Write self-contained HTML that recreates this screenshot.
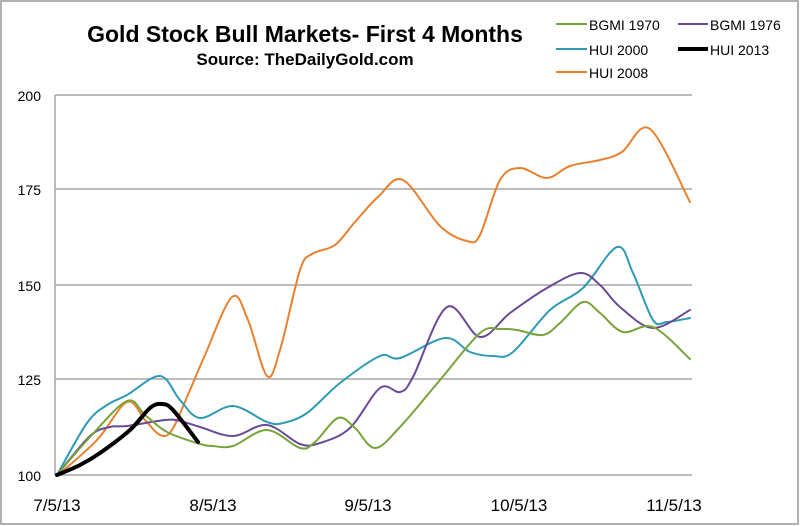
<!DOCTYPE html>
<html><head><meta charset="utf-8"><style>
html,body{margin:0;padding:0;background:#fff}
svg{display:block}
text{font-family:"Liberation Sans",sans-serif}
</style></head><body>
<svg id="s" width="800" height="526" viewBox="0 0 800 526" xmlns="http://www.w3.org/2000/svg">
<rect x="1" y="1" width="797" height="523" fill="#fff" stroke="#b0b0b0" stroke-width="2"/>
<g stroke="#a6a6a6" stroke-width="1.5">
<line x1="55" y1="95" x2="692" y2="95"/>
<line x1="55" y1="189" x2="692" y2="189"/>
<line x1="55" y1="285" x2="692" y2="285"/>
<line x1="55" y1="379" x2="692" y2="379"/>
<line x1="55" y1="475" x2="692" y2="475"/>
<line x1="55" y1="95" x2="55" y2="475"/>
</g>
<g font-size="14" fill="#000" text-anchor="end">
<text x="41" y="101">200</text><text x="41" y="195">175</text><text x="41" y="291">150</text><text x="41" y="385">125</text><text x="41" y="481">100</text>
</g>
<g font-size="17" fill="#000" text-anchor="middle">
<text x="57" y="511">7/5/13</text><text x="213" y="511">8/5/13</text><text x="368" y="511">9/5/13</text><text x="519" y="511">10/5/13</text><text x="674" y="511">11/5/13</text>
</g>
<text x="305" y="42" font-size="23" font-weight="bold" text-anchor="middle">Gold Stock Bull Markets- First 4 Months</text>
<text x="305" y="65" font-size="17" font-weight="bold" text-anchor="middle">Source: TheDailyGold.com</text>
<g font-size="14" fill="#000">
<line x1="556" y1="24" x2="587" y2="24" stroke="#77a33a" stroke-width="2"/><text x="589" y="30">BGMI 1970</text>
<line x1="678" y1="24" x2="708" y2="24" stroke="#6a4a96" stroke-width="2"/><text x="710" y="30">BGMI 1976</text>
<line x1="556" y1="49" x2="587" y2="49" stroke="#2e9ab4" stroke-width="2"/><text x="589" y="55">HUI 2000</text>
<line x1="678" y1="49" x2="708" y2="49" stroke="#000" stroke-width="4"/><text x="710" y="55">HUI 2013</text>
<line x1="556" y1="72" x2="587" y2="72" stroke="#e8802e" stroke-width="2"/><text x="589" y="78">HUI 2008</text>
</g>
<g fill="none" stroke-linejoin="round" stroke-linecap="round">
<path id="o" stroke="#e8802e" stroke-width="2"/>
<path id="t" stroke="#2e9ab4" stroke-width="2"/>
<path id="p" stroke="#6a4a96" stroke-width="2"/>
<path id="g" stroke="#77a33a" stroke-width="2"/>
<path id="k" stroke="#000" stroke-width="4"/>
</g>
</svg>
<script>
function cr(p){var d="M"+p[0][0]+","+p[0][1];for(var i=0;i<p.length-1;i++){var a=p[i-1]||p[i],b=p[i],c=p[i+1],e=p[i+2]||c;d+=" C"+(b[0]+(c[0]-a[0])/6)+","+(b[1]+(c[1]-a[1])/6)+" "+(c[0]-(e[0]-b[0])/6)+","+(c[1]-(e[1]-b[1])/6)+" "+c[0]+","+c[1];}return d;}
var S={
o:[[57,476],[97,440],[127,402],[145,420],[160,435],[172,430],[190,390],[205,355],[232,297],[248,320],[267,376],[280,350],[300,270],[312,254],[335,245],[355,222],[378,197],[403,180],[440,226],[467,241],[480,235],[500,180],[520,168],[547,178],[570,166],[600,160],[622,152],[650,129],[690,202]],
t:[[57,475],[87,423],[107,405],[127,395],[160,376],[180,400],[200,418],[233,406],[267,422],[283,423],[307,413],[340,383],[380,356],[400,358],[445,338],[470,352],[493,356],[513,352],[550,310],[583,288],[617,247],[633,273],[653,320],[667,322],[690,318]],
p:[[57,475],[90,436],[110,427],[127,426],[165,420],[180,421],[200,427],[233,436],[267,425],[300,444],[320,443],[350,428],[380,388],[400,392],[413,377],[447,307],[480,337],[510,313],[547,288],[580,273],[600,285],[620,307],[653,328],[690,310]],
g:[[57,475],[90,437],[127,401],[145,415],[167,432],[200,444],[213,446],[233,446],[267,430],[300,448],[315,442],[338,418],[355,428],[375,448],[400,427],[440,380],[480,333],[500,329],[517,330],[543,335],[560,323],[583,302],[600,313],[623,332],[653,327],[690,359]],
k:[[57,475],[80,465],[100,453],[130,430],[150,408],[162,404],[173,410],[198,442]]};
for(var k in S)document.getElementById(k).setAttribute("d",cr(S[k]));
</script>
</body></html>
